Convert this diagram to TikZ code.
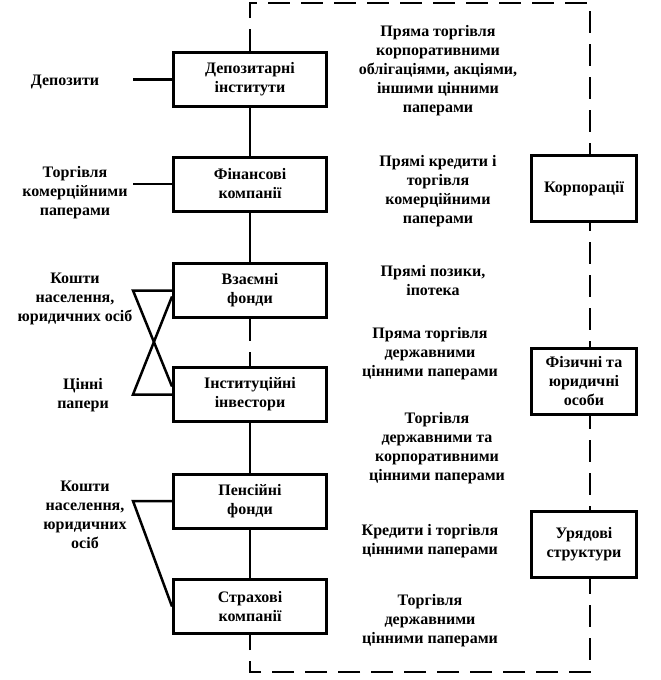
\documentclass[tikz,border=0pt]{standalone}
\usepackage{fontspec}
\setmainfont{Liberation Serif}
\usetikzlibrary{calc}
\newcommand{\lx}{133}
\newcommand{\fs}{\bfseries\fontsize{16}{19}\selectfont}

\tikzset{
  inst/.style={draw,line width=3pt,fill=white,minimum width=153pt,minimum height=54pt,align=center,font=\fs},
  sector/.style={inst,minimum width=105pt,minimum height=66pt},
  lbl/.style={align=center,font=\fs},
  link/.style={line width=2.5pt},
  dline/.style={line width=2.5pt,dash pattern=on 22pt off 11pt}
}

\begin{document}
\begin{tikzpicture}[x=1pt,y=-1pt]
\useasboundingbox (0,0) rectangle (661,680);
\coordinate (lx) at (\lx,0);
\coordinate (tl) at (250,3);
\coordinate (tr) at (590,3);
\coordinate (br) at (590,672);
\coordinate (bl) at (250,672);

\node[inst] (dep) at (250,79.5) {Депозитарні\\інститути};
\node[inst] (fin) at (250,184) {Фінансові\\компанії};
\node[inst] (vf) at (250,290.5) {Взаємні\\фонди};
\node[inst] (ii) at (250,394.5) {Інституційні\\інвестори};
\node[inst] (pf) at (250,501) {Пенсійні\\фонди};
\node[inst] (sk) at (250,606.5) {Страхові\\компанії};

\draw[dline] (dep.north) -- (tl) -- (tr) -- (br) -- (bl) -- (sk.south);
\draw[link] (dep) -- (fin);
\draw[link] (fin) -- (vf);
\draw[dline] (vf) -- (ii);
\draw[link] (ii) -- (pf);
\draw[link] (pf) -- (sk);

\node[sector] (kor) at (584,188.5) {Корпорації};
\node[sector] (fiz) at (584,381) {Фізичні та\\юридичні\\особи};
\node[sector] (ur) at (584,544) {Урядові\\структури};

\node[lbl] (depl) at (65,82) {Депозити};
\node[lbl] (torg) at (75,193) {Торгівля\\комерційними\\паперами};
\node[lbl] (kosh1) at (75,298.5) {Кошти\\населення,\\юридичних осіб};
\node[lbl] (cin) at (83,395) {Цінні\\папери};
\node[lbl] (kosh2) at (85,515) {Кошти\\населення,\\юридичних\\осіб};

\draw[link] (dep.west -| lx) -- (dep.west);
\draw[link] (fin.west -| lx) -- (fin.west);
\draw[link] ($(ii.west)+(0,-8)$) -- (vf.west -| lx) -- (vf.west);
\draw[link] ($(vf.west)+(0,6)$) -- (ii.west -| lx) -- (ii.west);
\draw[link] (sk.west) -- (pf.west -| lx) -- (pf.west);

\node[lbl] (m1) at (438,71) {Пряма торгівля\\корпоративними\\облігаціями, акціями,\\іншими цінними\\паперами};
\node[lbl] (m2) at (438,191.5) {Прямі кредити і\\торгівля\\комерційними\\паперами};
\node[lbl] (m3) at (433,281) {Прямі позики,\\іпотека};
\node[lbl] (m4) at (430,353.5) {Пряма торгівля\\державними\\цінними паперами};
\node[lbl] (m5) at (437,448.5) {Торгівля\\державними та\\корпоративними\\цінними паперами};
\node[lbl] (m6) at (430,541) {Кредити і торгівля\\цінними паперами};
\node[lbl] (m7) at (430,621) {Торгівля\\державними\\цінними паперами};
\end{tikzpicture}
\end{document}
